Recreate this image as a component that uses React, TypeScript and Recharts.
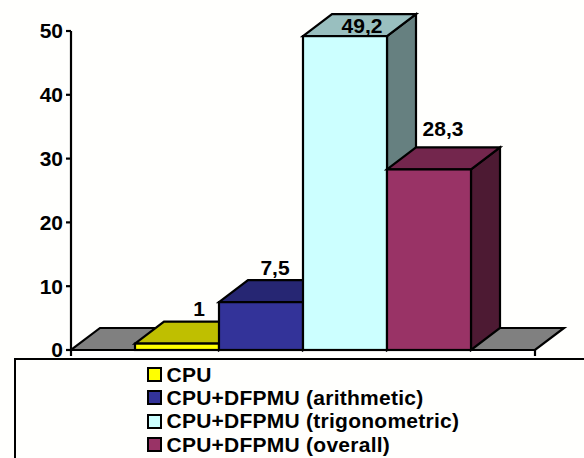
import { BarChart, Bar, XAxis, YAxis, Legend, LabelList, usePlotArea } from "recharts";

const categories = ["Run"];
const seriesNames = ["CPU", "CPU+DFPMU (arithmetic)", "CPU+DFPMU (trigonometric)", "CPU+DFPMU (overall)"];
const seriesValues = [1, 7.5, 49.2, 28.3];
const yTicks = [0, 10, 20, 30, 40, 50];

const FRONT = ["#ffff00", "#333399", "#ccffff", "#993366"];
const TOP = ["#bfbf00", "#262673", "#99bfbf", "#73264d"];
const SIDE = ["#808000", "#1a1a4d", "#668080", "#4d1a33"];
const LABEL_SHIFT = [
  { dx: 22, dy: -23 },
  { dx: 14, dy: -22 },
  { dx: 17, dy: 2 },
  { dx: 14, dy: -28 },
];
const DX = 29;
const DY = 22;
const STROKE = 2.2;

const row: Record<string, string | number> = { name: categories[0] };
seriesNames.forEach((s, i) => {
  row[s] = seriesValues[i];
});
const data = [row];

function Box3D(props: any) {
  const { x, y, width, height, idx } = props;
  const line = { stroke: "#000", strokeWidth: STROKE, strokeLinejoin: "miter" as const };
  return (
    <g>
      <polygon points={`${x + width},${y} ${x + width + DX},${y - DY} ${x + width + DX},${y + height - DY} ${x + width},${y + height}`} fill={SIDE[idx]} {...line} />
      <polygon points={`${x},${y} ${x + DX},${y - DY} ${x + width + DX},${y - DY} ${x + width},${y}`} fill={TOP[idx]} {...line} />
      <rect x={x} y={y} width={width} height={height} fill={FRONT[idx]} {...line} />
    </g>
  );
}

// back floor plus the two tick marks at the ends of the category axis
function Floor() {
  const area = usePlotArea();
  if (!area) return null;
  const { x, y, width, height } = area;
  const b = y + height;
  return (
    <g>
      <polygon
        points={`${x},${b} ${x + DX},${b - DY} ${x + width + DX},${b - DY} ${x + width},${b}`}
        fill="#808080"
        stroke="#000"
        strokeWidth={STROKE}
      />
      <line x1={x} x2={x} y1={b} y2={b + 6} stroke="#000" strokeWidth={STROKE} />
      <line x1={x + width} x2={x + width} y1={b} y2={b + 6} stroke="#000" strokeWidth={STROKE} />
    </g>
  );
}

function LegendBox({ payload }: any) {
  return (
    <div style={{ fontFamily: "'Liberation Sans', Arial, sans-serif", fontWeight: "bold", fontSize: 21, letterSpacing: 0.25, lineHeight: "23.2px", color: "#000" }}>
      {(payload || []).map((p: any) => (
        <div key={p.value} style={{ display: "flex", alignItems: "center", whiteSpace: "nowrap" }}>
          <span style={{ display: "inline-block", boxSizing: "border-box", width: 15, height: 15, background: p.color, border: "2px solid #000", marginRight: 5 }} />
          {p.value}
        </div>
      ))}
    </div>
  );
}

export default function App() {
  const tickStyle = { fontFamily: "'Liberation Sans', Arial, sans-serif", fontWeight: "bold", fontSize: 21, fill: "#000" };
  return (
    <div style={{ position: "absolute", left: 0, top: 0, width: 584, height: 458, background: "#fffffd", overflow: "hidden" }}>
      <div style={{ position: "absolute", left: 14, top: 358, width: 570, height: 100, borderTop: "2px solid #000", borderLeft: "2px solid #000", boxSizing: "border-box" }} />
      <BarChart
        width={584}
        height={458}
        data={data}
        margin={{ top: 31, right: 49, bottom: 15.2, left: 0 }}
        barSize={84}
        barGap={0}
      >
        <Floor />
        <XAxis dataKey="name" tick={false} tickLine={false} axisLine={{ stroke: "#000", strokeWidth: STROKE }} height={0} />
        <YAxis
          domain={[0, 50]}
          ticks={yTicks}
          width={71}
          interval={0}
          tick={tickStyle}
          tickSize={5}
          tickMargin={3}
          axisLine={{ stroke: "#000", strokeWidth: STROKE }}
          tickLine={{ stroke: "#000", strokeWidth: STROKE }}
        />
        <Legend
          content={<LegendBox />}
          layout="vertical"
          itemSorter={null}
          wrapperStyle={{ position: "absolute", left: 146.5, top: 363, width: "auto", bottom: "auto" }}
        />
        {seriesNames.map((s, i) => (
          <Bar key={s} dataKey={s} fill={FRONT[i]} isAnimationActive={false} shape={(p: any) => <Box3D {...p} idx={i} />}>
            <LabelList
              dataKey={s}
              position="top"
              dx={LABEL_SHIFT[i].dx}
              dy={LABEL_SHIFT[i].dy}
              formatter={(v: any) => String(v).replace(".", ",")}
              style={tickStyle}
            />
          </Bar>
        ))}
      </BarChart>
    </div>
  );
}
